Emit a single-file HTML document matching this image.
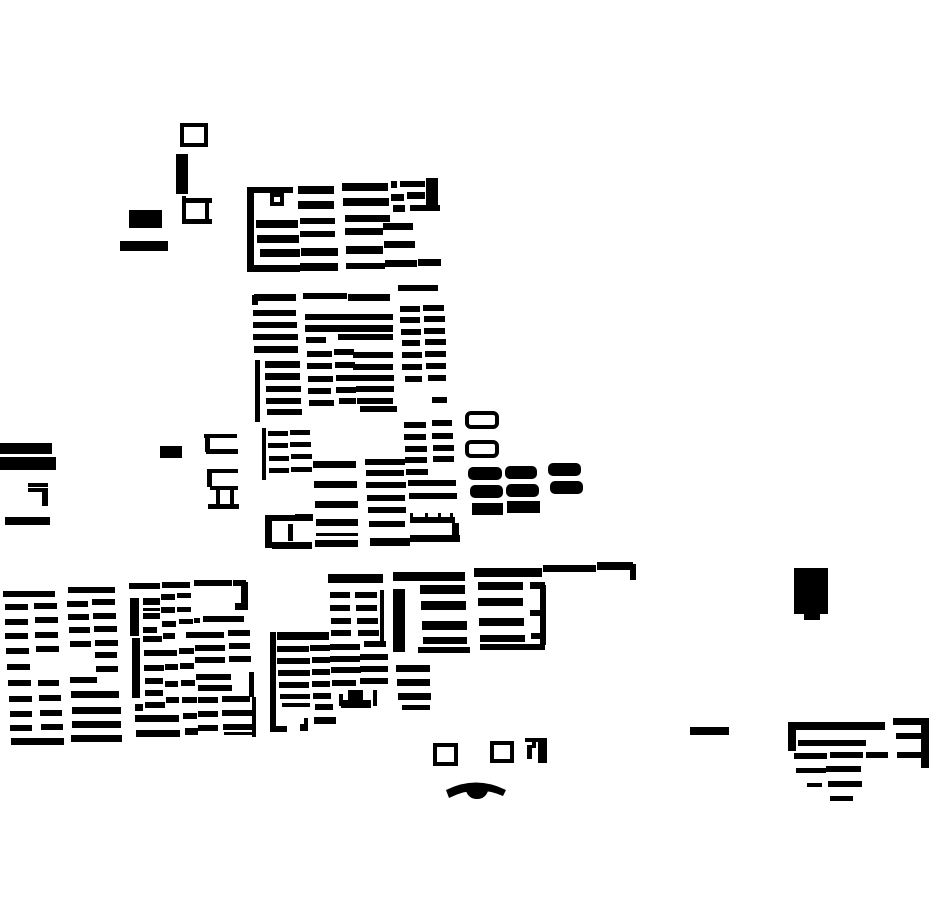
<!DOCTYPE html>
<html><head><meta charset="utf-8"><style>html,body{margin:0;padding:0;background:#fff}svg{display:block}</style></head>
<body>
<svg width="930" height="924" viewBox="0 0 930 924" xmlns="http://www.w3.org/2000/svg">
<g fill="#000">
<!-- top-left cluster -->
<rect x="180" y="123" width="28" height="4"/><rect x="180" y="123" width="4" height="24"/><rect x="180" y="143" width="28" height="4"/><rect x="204" y="123" width="4" height="24"/>
<rect x="176" y="154" width="12" height="40"/>
<rect x="182" y="196" width="4" height="28"/><rect x="184" y="198" width="28" height="5"/><rect x="184" y="219" width="28" height="5"/><rect x="205" y="198" width="4" height="26"/>
<rect x="129" y="210" width="33" height="18"/>
<rect x="120" y="241" width="48" height="10"/>
<!-- block A -->
<rect x="247" y="190" width="7" height="82"/><rect x="247" y="187" width="46" height="6"/><rect x="250" y="265" width="50" height="7"/>
<rect x="270" y="193" width="14" height="4"/><rect x="270" y="193" width="4" height="13"/><rect x="280" y="193" width="4" height="13"/><rect x="270" y="202" width="14" height="4"/>
<rect x="298" y="186" width="36" height="8"/><rect x="342" y="183" width="46" height="8"/><rect x="391" y="181" width="6" height="7"/><rect x="400" y="181" width="25" height="6"/><rect x="426" y="178" width="12" height="28"/>
<rect x="298" y="201" width="36" height="8"/><rect x="343" y="198" width="46" height="8"/><rect x="391" y="194" width="13" height="7"/><rect x="407" y="192" width="18" height="7"/>
<rect x="256" y="220" width="42" height="8"/><rect x="300" y="218" width="35" height="6"/><rect x="345" y="215" width="45" height="7"/><rect x="393" y="205" width="12" height="7"/><rect x="410" y="205" width="30" height="6"/>
<rect x="257" y="235" width="42" height="8"/><rect x="300" y="231" width="35" height="6"/><rect x="345" y="228" width="38" height="7"/><rect x="383" y="223" width="30" height="7"/>
<rect x="260" y="249" width="40" height="8"/><rect x="301" y="248" width="37" height="8"/><rect x="346" y="246" width="37" height="8"/><rect x="384" y="241" width="31" height="7"/>
<rect x="300" y="263" width="38" height="8"/><rect x="346" y="263" width="39" height="6"/><rect x="385" y="260" width="32" height="7"/><rect x="418" y="259" width="23" height="7"/>
<!-- block B -->
<rect x="252" y="295" width="6" height="10"/><rect x="254" y="294" width="42" height="7"/><rect x="303" y="293" width="44" height="6"/><rect x="348" y="294" width="42" height="7"/><rect x="398" y="285" width="40" height="6"/>
<rect x="253" y="310" width="43" height="6"/><rect x="253" y="322" width="44" height="6"/><rect x="253" y="334" width="45" height="6"/><rect x="254" y="346" width="44" height="7"/>
<rect x="255" y="360" width="5" height="62"/>
<rect x="265" y="361" width="35" height="7"/><rect x="265" y="373" width="35" height="7"/><rect x="266" y="386" width="35" height="6"/><rect x="266" y="398" width="35" height="6"/><rect x="267" y="409" width="35" height="6"/>
<rect x="305" y="314" width="88" height="6"/><rect x="305" y="325" width="88" height="7"/><rect x="306" y="337" width="20" height="6"/><rect x="338" y="334" width="55" height="6"/>
<rect x="307" y="351" width="25" height="6"/><rect x="334" y="349" width="20" height="6"/><rect x="353" y="352" width="40" height="6"/>
<rect x="307" y="363" width="25" height="6"/><rect x="335" y="362" width="20" height="6"/><rect x="353" y="364" width="40" height="6"/>
<rect x="308" y="376" width="25" height="6"/><rect x="336" y="375" width="20" height="6"/><rect x="354" y="375" width="40" height="6"/>
<rect x="308" y="388" width="23" height="6"/><rect x="336" y="387" width="20" height="6"/><rect x="356" y="386" width="38" height="6"/>
<rect x="309" y="400" width="25" height="6"/><rect x="339" y="398" width="17" height="6"/><rect x="357" y="398" width="36" height="6"/><rect x="360" y="406" width="37" height="6"/>
<g>
<rect x="400" y="306" width="20" height="6"/><rect x="423" y="305" width="21" height="6"/>
<rect x="400" y="317" width="20" height="6"/><rect x="424" y="316" width="21" height="6"/>
<rect x="401" y="329" width="20" height="6"/><rect x="424" y="328" width="21" height="6"/>
<rect x="402" y="340" width="18" height="6"/><rect x="425" y="339" width="21" height="6"/>
<rect x="402" y="352" width="20" height="6"/><rect x="425" y="351" width="21" height="6"/>
<rect x="402" y="364" width="20" height="6"/><rect x="426" y="363" width="20" height="6"/>
<rect x="405" y="376" width="17" height="6"/><rect x="428" y="375" width="18" height="6"/>
<rect x="432" y="397" width="15" height="6"/>
</g>
<!-- block C -->
<rect x="262" y="428" width="4" height="52"/>
<rect x="268" y="431" width="20" height="5"/><rect x="290" y="430" width="20" height="5"/>
<rect x="268" y="443" width="20" height="5"/><rect x="290" y="442" width="21" height="5"/>
<rect x="269" y="456" width="20" height="5"/><rect x="291" y="454" width="21" height="5"/>
<rect x="269" y="468" width="20" height="5"/><rect x="291" y="467" width="21" height="5"/>
<rect x="404" y="422" width="22" height="6"/><rect x="432" y="420" width="20" height="6"/>
<rect x="404" y="434" width="22" height="6"/><rect x="432" y="433" width="21" height="6"/>
<rect x="405" y="446" width="22" height="6"/><rect x="433" y="445" width="21" height="6"/>
<rect x="405" y="457" width="22" height="6"/><rect x="433" y="456" width="21" height="6"/>
<rect x="313" y="461" width="43" height="7"/><rect x="365" y="459" width="40" height="6"/>
<rect x="366" y="470" width="38" height="6"/><rect x="406" y="469" width="22" height="6"/>
<rect x="314" y="481" width="43" height="7"/><rect x="366" y="482" width="40" height="6"/><rect x="408" y="480" width="48" height="6"/>
<rect x="367" y="495" width="38" height="6"/><rect x="409" y="493" width="48" height="6"/>
<rect x="315" y="501" width="43" height="7"/><rect x="368" y="507" width="38" height="6"/>
<rect x="316" y="519" width="42" height="7"/><rect x="369" y="521" width="36" height="6"/>
<rect x="410" y="517" width="45" height="6"/><rect x="410" y="513" width="3" height="5"/><rect x="425" y="513" width="3" height="5"/><rect x="438" y="513" width="3" height="5"/><rect x="450" y="513" width="3" height="5"/>
<rect x="316" y="533" width="42" height="3"/>
<rect x="265" y="515" width="7" height="33"/><rect x="265" y="515" width="35" height="6"/><rect x="272" y="542" width="40" height="7"/><rect x="288" y="524" width="5" height="17"/>
<rect x="295" y="514" width="18" height="7"/>
<rect x="315" y="540" width="43" height="7"/><rect x="370" y="538" width="40" height="8"/><rect x="410" y="535" width="50" height="7"/><rect x="452" y="523" width="7" height="18"/>
<!-- rounded -->
<rect x="467" y="413" width="30" height="14" rx="4" fill="none" stroke="#000" stroke-width="4"/>
<rect x="467" y="442" width="30" height="14" rx="4" fill="none" stroke="#000" stroke-width="4"/>
<rect x="468" y="467" width="34" height="13" rx="5"/><rect x="505" y="466" width="32" height="13" rx="5"/><rect x="548" y="463" width="33" height="13" rx="5"/>
<rect x="470" y="485" width="33" height="13" rx="5"/><rect x="506" y="484" width="33" height="13" rx="5"/><rect x="550" y="481" width="33" height="13" rx="5"/>
<rect x="472" y="503" width="31" height="12"/><rect x="507" y="501" width="33" height="12"/>
<!-- left edge -->
<rect x="0" y="443" width="52" height="11"/><rect x="0" y="457" width="56" height="13"/>
<rect x="28" y="483" width="20" height="4"/><rect x="28" y="488" width="20" height="4"/><rect x="42" y="488" width="6" height="18"/>
<rect x="5" y="517" width="45" height="8"/>
<rect x="160" y="446" width="22" height="12"/>
<rect x="204" y="434" width="33" height="4"/><rect x="205" y="434" width="5" height="18"/><rect x="206" y="449" width="32" height="5"/>
<rect x="207" y="469" width="31" height="4"/><rect x="207" y="469" width="5" height="18"/><rect x="210" y="486" width="28" height="4"/><rect x="216" y="488" width="4" height="18"/><rect x="230" y="488" width="4" height="18"/><rect x="208" y="504" width="31" height="5"/>
<!-- block D -->
<rect x="3" y="591" width="52" height="6"/><rect x="68" y="587" width="47" height="6"/>
<rect x="5" y="604" width="23" height="6"/><rect x="34" y="603" width="23" height="6"/><rect x="67" y="601" width="21" height="6"/><rect x="92" y="599" width="23" height="6"/>
<rect x="5" y="619" width="23" height="6"/><rect x="35" y="617" width="23" height="6"/><rect x="68" y="614" width="21" height="6"/><rect x="93" y="613" width="23" height="6"/>
<rect x="5" y="633" width="23" height="6"/><rect x="35" y="632" width="23" height="6"/><rect x="69" y="627" width="21" height="6"/><rect x="94" y="626" width="23" height="6"/>
<rect x="6" y="648" width="23" height="6"/><rect x="36" y="646" width="23" height="6"/><rect x="70" y="641" width="21" height="6"/><rect x="95" y="640" width="23" height="6"/>
<rect x="95" y="652" width="22" height="6"/>
<rect x="7" y="664" width="23" height="6"/><rect x="96" y="666" width="22" height="6"/>
<rect x="8" y="680" width="23" height="6"/><rect x="38" y="680" width="21" height="6"/><rect x="70" y="677" width="27" height="6"/>
<rect x="9" y="696" width="23" height="6"/><rect x="39" y="695" width="22" height="6"/><rect x="71" y="691" width="48" height="7"/>
<rect x="10" y="711" width="22" height="6"/><rect x="40" y="710" width="22" height="6"/><rect x="72" y="707" width="49" height="7"/>
<rect x="10" y="725" width="22" height="6"/><rect x="41" y="724" width="22" height="6"/><rect x="72" y="721" width="49" height="7"/>
<rect x="11" y="738" width="53" height="7"/><rect x="71" y="735" width="51" height="7"/>
<rect x="129" y="583" width="31" height="6"/><rect x="162" y="582" width="28" height="6"/><rect x="194" y="580" width="38" height="6"/><rect x="233" y="580" width="13" height="6"/><rect x="241" y="582" width="7" height="26"/><rect x="235" y="603" width="13" height="7"/>
<rect x="130" y="598" width="9" height="38"/><rect x="132" y="638" width="8" height="60"/>
<rect x="143" y="598" width="17" height="7"/><rect x="161" y="594" width="14" height="6"/><rect x="177" y="593" width="14" height="5"/>
<rect x="143" y="608" width="17" height="3"/><rect x="161" y="607" width="14" height="6"/><rect x="177" y="607" width="14" height="5"/>
<rect x="143" y="613" width="17" height="6"/><rect x="162" y="621" width="14" height="6"/><rect x="179" y="619" width="14" height="5"/><rect x="194" y="618" width="6" height="5"/><rect x="203" y="616" width="41" height="6"/>
<rect x="143" y="627" width="14" height="6"/><rect x="143" y="636" width="19" height="6"/><rect x="163" y="633" width="12" height="6"/><rect x="186" y="632" width="38" height="6"/><rect x="228" y="630" width="22" height="6"/>
<rect x="144" y="650" width="33" height="6"/><rect x="179" y="648" width="15" height="6"/><rect x="195" y="645" width="30" height="6"/><rect x="229" y="643" width="21" height="6"/>
<rect x="195" y="657" width="30" height="6"/><rect x="229" y="656" width="22" height="6"/>
<rect x="144" y="665" width="20" height="6"/><rect x="165" y="664" width="13" height="6"/><rect x="180" y="663" width="14" height="6"/><rect x="196" y="674" width="35" height="6"/>
<rect x="145" y="678" width="18" height="6"/><rect x="165" y="681" width="13" height="6"/><rect x="181" y="680" width="14" height="6"/><rect x="198" y="685" width="34" height="6"/><rect x="249" y="672" width="5" height="25"/>
<rect x="145" y="690" width="18" height="6"/>
<rect x="135" y="704" width="8" height="7"/><rect x="145" y="702" width="20" height="6"/><rect x="166" y="697" width="13" height="6"/><rect x="182" y="697" width="15" height="6"/><rect x="198" y="697" width="20" height="6"/><rect x="222" y="696" width="28" height="6"/>
<rect x="135" y="715" width="44" height="7"/><rect x="183" y="713" width="14" height="6"/><rect x="198" y="711" width="20" height="6"/><rect x="222" y="710" width="30" height="6"/>
<rect x="136" y="730" width="44" height="7"/><rect x="185" y="728" width="13" height="7"/><rect x="198" y="725" width="20" height="6"/><rect x="223" y="724" width="29" height="6"/><rect x="224" y="732" width="28" height="3"/><rect x="252" y="697" width="4" height="40"/>
<!-- block E -->
<rect x="328" y="574" width="55" height="9"/>
<rect x="330" y="592" width="20" height="6"/><rect x="355" y="592" width="22" height="6"/><rect x="380" y="590" width="4" height="52"/>
<rect x="330" y="605" width="20" height="6"/><rect x="356" y="605" width="21" height="6"/>
<rect x="331" y="618" width="20" height="6"/><rect x="357" y="618" width="21" height="6"/>
<rect x="331" y="630" width="20" height="6"/><rect x="358" y="630" width="21" height="6"/>
<rect x="270" y="632" width="6" height="100"/><rect x="277" y="632" width="52" height="8"/>
<rect x="277" y="646" width="32" height="6"/><rect x="310" y="645" width="20" height="6"/><rect x="330" y="644" width="30" height="6"/><rect x="364" y="641" width="22" height="6"/>
<rect x="277" y="658" width="33" height="6"/><rect x="312" y="657" width="18" height="6"/><rect x="330" y="656" width="30" height="6"/><rect x="360" y="654" width="28" height="6"/>
<rect x="278" y="670" width="32" height="6"/><rect x="312" y="669" width="18" height="6"/><rect x="331" y="667" width="30" height="6"/><rect x="360" y="666" width="28" height="6"/>
<rect x="279" y="682" width="30" height="6"/><rect x="312" y="681" width="18" height="6"/><rect x="332" y="680" width="24" height="6"/><rect x="360" y="678" width="28" height="6"/>
<rect x="280" y="694" width="30" height="5"/><rect x="313" y="693" width="18" height="6"/>
<rect x="282" y="703" width="28" height="4"/><rect x="315" y="704" width="18" height="6"/>
<rect x="341" y="700" width="30" height="8"/><rect x="348" y="690" width="15" height="14"/><rect x="339" y="694" width="4" height="12"/><rect x="373" y="690" width="4" height="16"/>
<rect x="275" y="726" width="12" height="6"/><rect x="300" y="724" width="8" height="7"/><rect x="304" y="718" width="4" height="10"/><rect x="314" y="717" width="22" height="7"/>
<rect x="396" y="665" width="34" height="7"/><rect x="397" y="679" width="33" height="7"/><rect x="398" y="693" width="33" height="7"/><rect x="402" y="705" width="28" height="5"/>
<!-- block F -->
<rect x="393" y="572" width="72" height="9"/><rect x="474" y="568" width="68" height="9"/><rect x="543" y="565" width="53" height="7"/><rect x="597" y="562" width="36" height="8"/><rect x="630" y="564" width="6" height="16"/>
<rect x="393" y="589" width="12" height="63"/>
<rect x="420" y="585" width="45" height="9"/><rect x="478" y="582" width="45" height="8"/><rect x="530" y="582" width="15" height="7"/>
<rect x="421" y="601" width="45" height="9"/><rect x="478" y="598" width="45" height="8"/><rect x="530" y="610" width="10" height="6"/>
<rect x="422" y="621" width="45" height="9"/><rect x="479" y="618" width="45" height="8"/>
<rect x="423" y="637" width="44" height="7"/><rect x="480" y="635" width="45" height="7"/><rect x="531" y="633" width="10" height="6"/><rect x="540" y="585" width="6" height="60"/>
<rect x="418" y="647" width="52" height="6"/><rect x="480" y="644" width="65" height="6"/>
<!-- right side -->
<rect x="794" y="568" width="34" height="46"/><rect x="804" y="612" width="16" height="8"/>
<rect x="690" y="727" width="39" height="8"/>
<rect x="788" y="722" width="97" height="8"/><rect x="788" y="724" width="8" height="27"/>
<rect x="893" y="718" width="33" height="7"/><rect x="921" y="718" width="8" height="50"/><rect x="896" y="733" width="25" height="6"/><rect x="897" y="752" width="25" height="6"/>
<rect x="798" y="740" width="68" height="6"/><rect x="794" y="753" width="33" height="6"/><rect x="830" y="752" width="33" height="6"/><rect x="866" y="752" width="22" height="6"/>
<rect x="796" y="768" width="30" height="5"/><rect x="826" y="766" width="35" height="6"/>
<rect x="807" y="783" width="15" height="4"/><rect x="828" y="781" width="34" height="6"/>
<rect x="830" y="796" width="23" height="5"/>
<!-- bottom small -->
<rect x="435" y="745" width="21" height="19" fill="none" stroke="#000" stroke-width="4"/>
<rect x="492" y="743" width="20" height="18" fill="none" stroke="#000" stroke-width="4"/>
<rect x="525" y="738" width="22" height="4"/><rect x="532" y="742" width="4" height="6"/><rect x="527" y="745" width="5" height="14"/><rect x="538" y="741" width="9" height="22"/>
<path d="M446 790 Q476 775 506 790 L503 796 Q476 784 449 798 Z"/>
<path d="M465 787 L489 787 Q487 799 477 799 Q467 799 465 787 Z"/>
</g>
</svg>
</body></html>
